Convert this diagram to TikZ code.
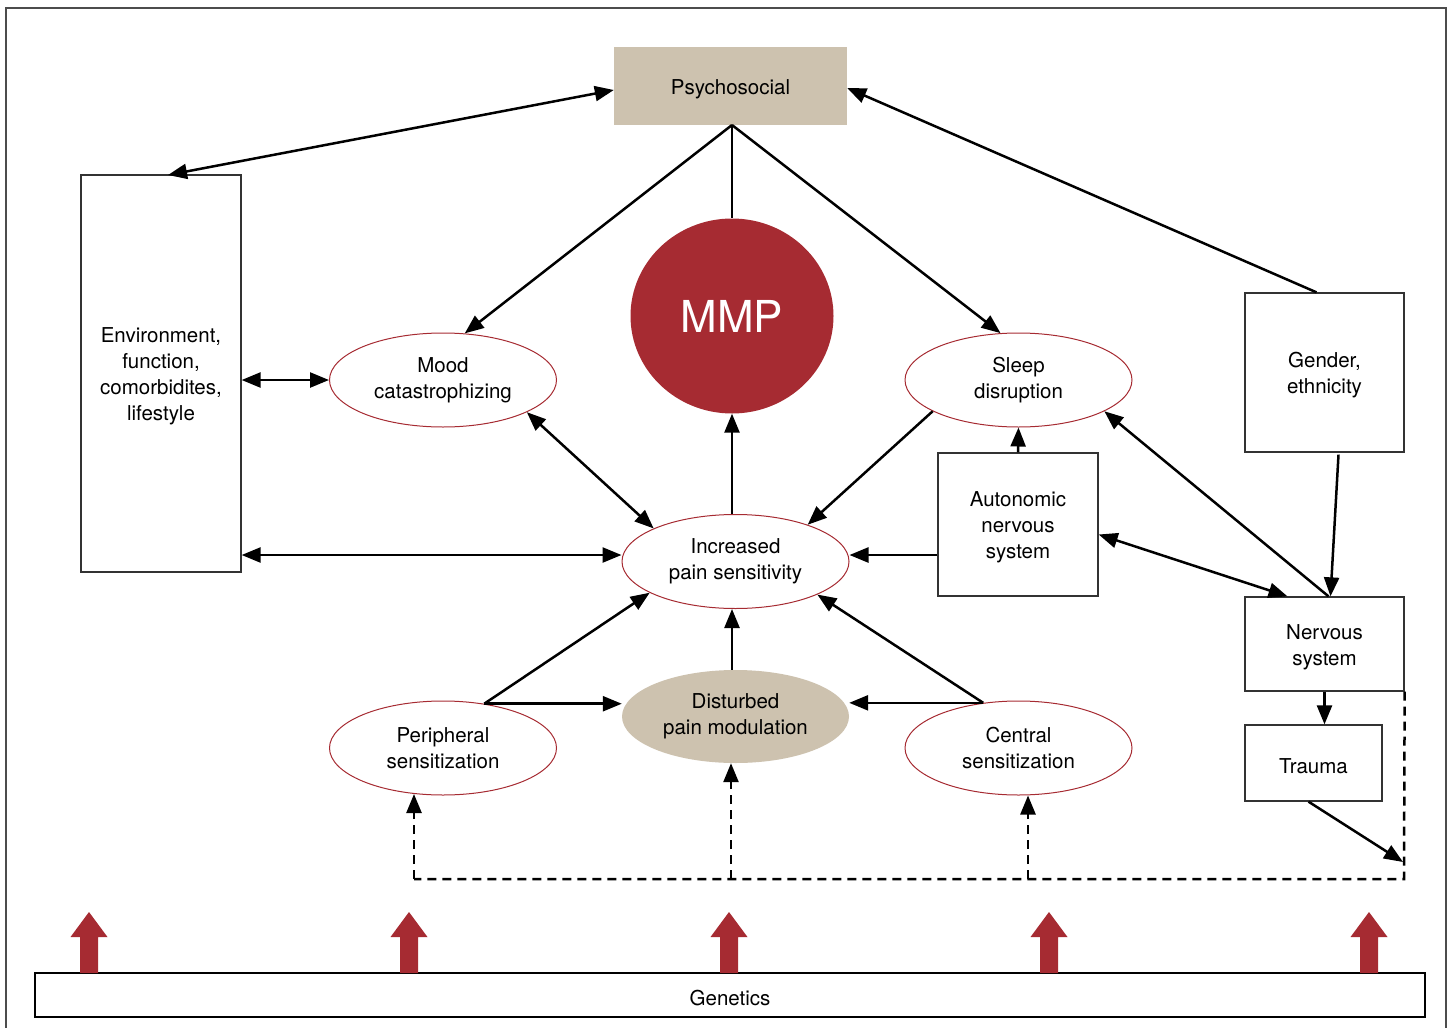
\documentclass[tikz,border=0pt]{standalone}
\usepackage{fontspec}
\setmainfont{TeX Gyre Heros}
\usetikzlibrary{arrows.meta,shapes.geometric,calc}
\definecolor{mmpred}{HTML}{A62B32}
\definecolor{tan}{HTML}{CDC2AF}
\newcommand{\lowertext}[1]{\raisebox{-3pt}[\height][\depth]{#1}}
\begin{document}
\begin{tikzpicture}[x=1pt,y=-1pt,
  every node/.style={font=\fontsize{20.5}{26}\selectfont, align=center, inner sep=0pt},
  box/.style={draw=black!80, line width=1.3pt, rectangle},
  oval/.style={ellipse, draw=mmpred, line width=1pt, minimum width=227pt, minimum height=94pt},
  conn/.style={line width=2.5pt, -{Triangle[length=19pt,width=15pt]}},
  bconn/.style={line width=2.5pt, {Triangle[length=19pt,width=15pt]}-{Triangle[length=19pt,width=15pt]}},
  plain/.style={line width=2.5pt},
  dconn/.style={line width=2.5pt, dash pattern=on 9pt off 6pt},
  redarrow/.style={fill=mmpred, draw=none}
]
\useasboundingbox (0,0) rectangle (1451,1028);
\draw[black!70, line width=2pt] (6,1040) -- (6,8) -- (1446,8) -- (1446,1040);

% nodes
\node[fill=tan, minimum width=233pt, minimum height=78pt] (psy) at (730.5,86) {\lowertext{Psychosocial}};
\node[box, minimum width=160pt, minimum height=397pt] (env) at (161,373.5) {\lowertext{Environment,}\\\lowertext{function,}\\\lowertext{comorbidites,}\\\lowertext{lifestyle}};
\node[oval] (mood) at (443,380) {Mood\\catastrophizing};
\node[ellipse, fill=mmpred, minimum width=203pt, minimum height=195pt,
      text=white, font=\fontsize{44}{48}\selectfont] (mmp) at (732,316) {MMP};
\node[oval] (sleep) at (1018.5,380) {Sleep\\disruption};
\node[box, minimum width=159pt, minimum height=159pt] (gender) at (1324.5,372.5) {\lowertext{Gender,}\\\lowertext{ethnicity}};
\node[oval] (inc) at (735.5,561.5) {Increased\\pain sensitivity};
\node[box, minimum width=160pt, minimum height=143pt] (ans) at (1018,524.5) {\lowertext{Autonomic}\\\lowertext{nervous}\\\lowertext{system}};
\node[box, minimum width=159pt, minimum height=94pt] (nerv) at (1324.5,644) {\lowertext{Nervous}\\\lowertext{system}};
\node[box, minimum width=137pt, minimum height=76pt] (trauma) at (1313.5,763) {\lowertext{Trauma}};
\node[oval] (periph) at (443,748) {Peripheral\\sensitization};
\node[ellipse, fill=tan, minimum width=227pt, minimum height=93pt] (dist) at (735.5,716.5) {Disturbed\\pain modulation};
\node[oval] (central) at (1018.5,748) {Central\\sensitization};
\node[draw=black, line width=1.6pt, minimum width=1390pt, minimum height=44pt] (gen) at (730,995) {\lowertext{Genetics}};

% helper coordinates
\coordinate (y555) at (0,555);
\coordinate (psyb) at (732,125);
\coordinate (envtop) at (168,175);
\coordinate (dcorner) at (1404,879);
\coordinate (dleft) at (414,879);
\coordinate (dmid) at (731,879);
\coordinate (dright) at (1028,879);
\coordinate (traumaend) at (1403,862);
\coordinate (pt) at (periph.47);
\coordinate (ct) at (central.128);

% connectors
\draw[bconn] (envtop) -- ($(psy.west)+(0,4)$);
\draw[conn] ($(gender.north)+(-8,0)$) -- ($(psy.east)+(0,2)$);
\draw[conn] (psyb) -- (mood.65);
\draw[plain] (psyb) -- (mmp.north);
\draw[conn] (psyb) -- (sleep.111);
\draw[bconn] (env.east |- mood.west) -- (mood.west);
\draw[bconn] (env.east |- y555) -- (inc.west |- y555);
\draw[bconn] (mood.-21) -- (inc.158);
\draw[conn] (inc.north -| mmp.south) -- (mmp.south);
\draw[conn] (sleep.200) -- (inc.27);
\draw[conn] (ans.north) -- (sleep.south);
\draw[conn] (ans.west |- y555) -- (inc.east |- y555);
\draw[bconn] ($(ans.east)+(0,10)$) -- ($(nerv.north)+(-37,0)$);
\draw[conn] ($(nerv.north)+(4,0)$) -- (sleep.-20);
\draw[conn] ($(gender.south)+(14,2)$) -- ($(nerv.north)+(6,0)$);
\draw[conn] (nerv.south) -- (trauma.north -| nerv.south);
\draw[conn] ($(trauma.south)+(-5,0)$) -- (traumaend);
\draw[conn] (pt) -- (inc.200);
\draw[conn] (pt) -- (dist.west |- pt);
\draw[conn] (ct) -- (inc.-22);
\draw[conn] (ct) -- (dist.east |- ct);
\draw[conn] (dist.north -| mmp.south) -- (inc.south -| mmp.south);

% dashed genetics paths
\draw[dconn] (nerv.south east) -- (dcorner) -- (dleft);
\draw[dconn, -{Triangle[length=19pt,width=15pt]}] (dleft) -- ($(dleft)+(0,-85)$);
\draw[dconn, -{Triangle[length=19pt,width=15pt]}] (dmid) -- (dmid |- dist.south);
\draw[dconn, -{Triangle[length=19pt,width=15pt]}] (dright) -- (dright |- central.south);

% red genetics arrows
\foreach \xx in {89,409,729,1049,1369}{
  \fill[redarrow] (\xx-9,973) -- (\xx-9,937) -- (\xx-18.5,937) -- (\xx,912) -- (\xx+18.5,937) -- (\xx+9,937) -- (\xx+9,973) -- cycle;
}
\end{tikzpicture}
\end{document}
